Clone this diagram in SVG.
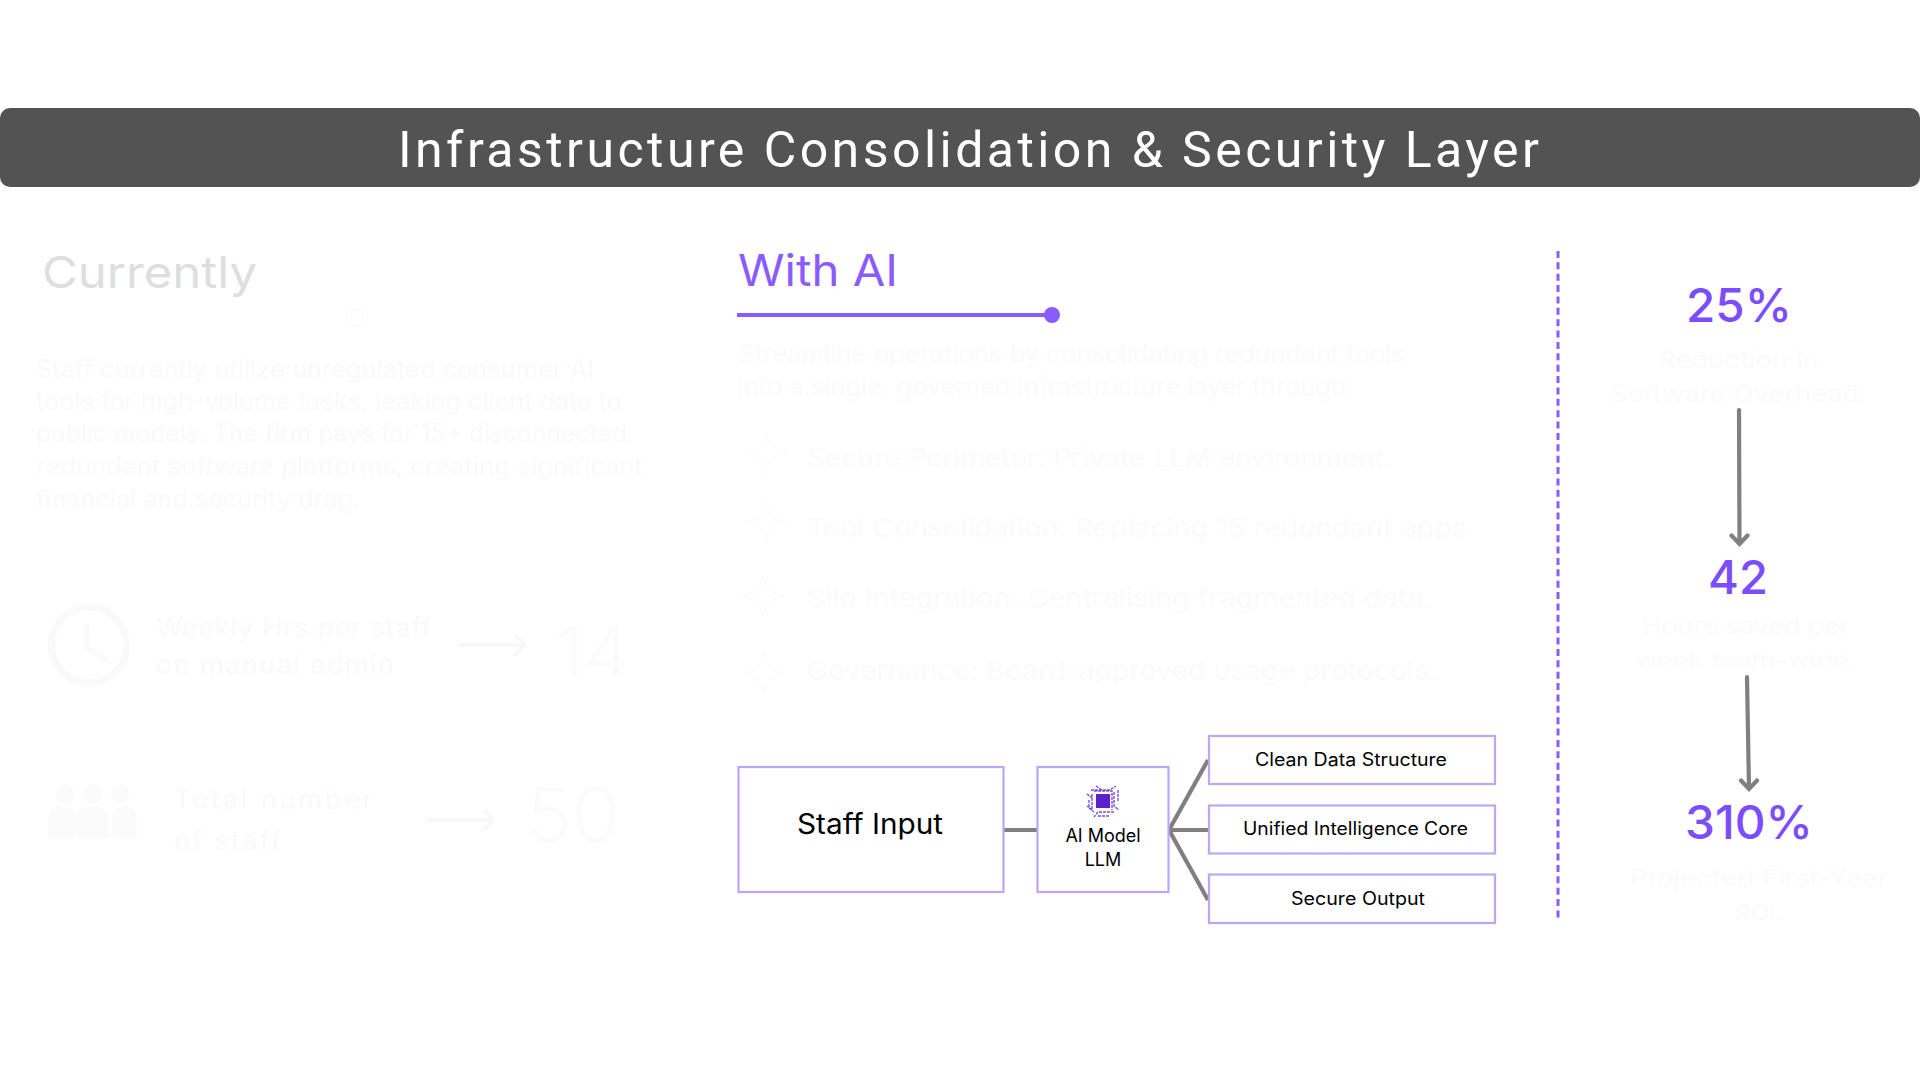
<svg xmlns="http://www.w3.org/2000/svg" width="1920" height="1080" viewBox="0 0 1920 1080">
<style>
text{font-family:"Inter","Noto Sans",sans-serif}
.box{fill:#fff;stroke:#bba6fb;stroke-width:2.2}
.conn{fill:none;stroke:#808080;stroke-width:4.2}
.fb{fill:#fafafb;font-size:25px}
.fm{fill:#fafafb;font-size:27px}
.fs{fill:#fbfbfb;font-size:26px}
.fw{fill:#fbfbfb;font-size:23px}
.fi{fill:none;stroke:#fafafa;stroke-width:7;stroke-linecap:round;stroke-linejoin:round}
.fa{fill:none;stroke:#f8f8f8;stroke-width:4;stroke-linecap:round;stroke-linejoin:round}
.star{fill:none;stroke:#fafafa;stroke-width:1}
.num{fill:#fbfbfb;font-size:70px;font-weight:300}
.bl{fill:#000;font-weight:400}
.pct{fill:#7c4dff;font-size:47px;font-weight:500}
.trace{fill:none;stroke:#7a4fe0;stroke-width:1.4}
</style>
<defs>
<path id="s" d="M0-21C2-8 8-2 21 0C8 2 2 8 0 21C-2 8-8 2-21 0C-8-2-2-8 0-21Z"/>
</defs>
<g id="header">
<rect x="0" y="108" width="1920" height="79" rx="10" fill="#535353"/>
<text x="398" y="167" font-size="50" fill="#fff" textLength="1141" lengthAdjust="spacing" style="font-family:'Roboto',sans-serif;font-weight:400">Infrastructure Consolidation &amp; Security Layer</text>
</g>
<g id="currently">
<text x="42" y="288" font-size="44" fill="#dedee1" textLength="215" lengthAdjust="spacingAndGlyphs" style="font-weight:400">Currently</text>
<circle cx="355" cy="317" r="8.500" fill="none" stroke="#fbfbfb" stroke-width="1.500"/>
<text class="fb" x="36" y="378" textLength="558" lengthAdjust="spacingAndGlyphs">Staff currently utilize unregulated consumer AI</text>
<text class="fb" x="36" y="410" textLength="586" lengthAdjust="spacingAndGlyphs">tools for high-volume tasks, leaking client data to</text>
<text class="fb" x="36" y="442" textLength="598" lengthAdjust="spacingAndGlyphs">public models. The firm pays for 15+ disconnected,</text>
<text class="fb" x="36" y="475" textLength="607" lengthAdjust="spacingAndGlyphs">redundant software platforms, creating significant</text>
<text class="fb" x="36" y="508" textLength="324" lengthAdjust="spacingAndGlyphs">financial and security drag.</text>
</g>
<g id="metric-hours">
<ellipse class="fi" cx="89" cy="645" rx="37.500" ry="38"/>
<path class="fi" d="M87.500 626V648L106 660" stroke-linecap="butt" style="stroke-width:5"/>
<text class="fm" x="156" y="637" textLength="275" lengthAdjust="spacing">Weekly Hrs per staff</text>
<text class="fm" x="156" y="674" textLength="238" lengthAdjust="spacing">on manual admin</text>
<path class="fa" d="M459 645H524M516 636L524.500 645L516 654"/>
<text class="num" x="555" y="677" textLength="75" lengthAdjust="spacingAndGlyphs">14</text>
</g>
<g id="metric-staff">
<g fill="#fbfbfb">
<circle cx="65" cy="794" r="9.500"/><circle cx="93" cy="794" r="9.500"/><circle cx="120.500" cy="794" r="9.500"/>
<path d="M48 838V823Q48 806 62 806Q72 806 76 815V838Z"/>
<path d="M77 838V820Q77 806 93 806Q109 806 109 820V838Z"/>
<path d="M113 838V815Q116 806 125 806Q137 806 137 823V838Z"/>
</g>
<text class="fm" x="174" y="809" textLength="199" lengthAdjust="spacing">Total number</text>
<text class="fm" x="174" y="850" textLength="107" lengthAdjust="spacing">of staff</text>
<path class="fa" d="M428 820H493M485 811L493.500 820L485 829"/>
<text class="num" x="526" y="842" style="font-size:75px" textLength="94" lengthAdjust="spacingAndGlyphs">50</text>
</g>
<g id="with-ai">
<text x="738" y="286" font-size="44" textLength="160" lengthAdjust="spacingAndGlyphs" style="fill:#8a5cff;font-weight:400">With AI</text>
<path d="M737 315H1050" stroke="#8a5cff" stroke-width="4"/>
<circle cx="1052" cy="315" r="8" fill="#8a5cff"/>
<text class="fs" x="738" y="363" textLength="667" lengthAdjust="spacingAndGlyphs">Streamline operations by consolidating redundant tools</text>
<text class="fs" x="738" y="396" textLength="615" lengthAdjust="spacingAndGlyphs">into a single, governed infrastructure layer through:</text>
</g>
<g id="item-1"><use href="#s" class="star" x="766" y="453"/><text class="fs" x="807" y="467" textLength="585" lengthAdjust="spacingAndGlyphs">Secure Perimeter: Private LLM environment.</text></g>
<g id="item-2"><use href="#s" class="star" x="766" y="522"/><text class="fs" x="807" y="537" textLength="660" lengthAdjust="spacingAndGlyphs">Tool Consolidation: Replacing 15 redundant apps</text></g>
<g id="item-3"><use href="#s" class="star" x="763" y="596"/><text class="fs" x="807" y="607" textLength="625" lengthAdjust="spacingAndGlyphs">Silo Integration: Centralising fragmented data.</text></g>
<g id="item-4"><use href="#s" class="star" x="764" y="673"/><text class="fs" x="807" y="680" textLength="630" lengthAdjust="spacingAndGlyphs">Governance: Board-approved usage protocols.</text></g>
<g id="connectors">
<path class="conn" d="M1003 830H1037"/>
<path class="conn" d="M1168 830H1208M1208 760L1169 830L1208 900"/>
<path class="conn" d="M1739 410L1739.500 544M1731.500 535.500L1739.500 544L1747.500 535.500" stroke-linecap="round"/>
<path class="conn" d="M1747 677L1749 789M1741 780.500L1749 789L1757 780.500" stroke-linecap="round"/>
</g>
<g id="node-staff-input">
<rect class="box" x="738.500" y="767" width="265" height="125"/>
<text class="bl" x="797" y="834" font-size="28" textLength="146" lengthAdjust="spacingAndGlyphs">Staff Input</text>
</g>
<g id="node-ai-model">
<rect class="box" x="1037.500" y="767" width="131" height="125"/>
<g id="chip">
<rect x="1096" y="794" width="14" height="14" fill="#5a22cc"/>
<path class="trace" d="M1091 790H1110L1116 786M1114 792V806L1119 810M1114 812H1098L1094 817M1092 794V810L1087 806M1096 786L1102 790M1087 794L1092 798M1118 790V802M1098 816H1110M1089 800V808L1094 812M1094 791H1112V810" stroke-dasharray="3 1"/>
</g>
<text class="bl" x="1103" y="842" font-size="18" text-anchor="middle">AI Model</text>
<text class="bl" x="1103" y="866" font-size="18" text-anchor="middle">LLM</text>
</g>
<g id="node-clean">
<rect class="box" x="1209" y="736" width="286" height="48"/>
<text class="bl" x="1255" y="766" font-size="18" textLength="192" lengthAdjust="spacingAndGlyphs">Clean Data Structure</text>
</g>
<g id="node-core">
<rect class="box" x="1209" y="805.500" width="286" height="48"/>
<text class="bl" x="1243" y="835" font-size="18" textLength="225" lengthAdjust="spacingAndGlyphs">Unified Intelligence Core</text>
</g>
<g id="node-output">
<rect class="box" x="1209" y="874.500" width="286" height="48.500"/>
<text class="bl" x="1291" y="905" font-size="18" textLength="134" lengthAdjust="spacingAndGlyphs">Secure Output</text>
</g>
<path id="divider" d="M1558 251V919" fill="none" stroke="#8a5cff" stroke-width="3" stroke-dasharray="7 4.370"/>
<g id="stat-25">
<text class="pct" x="1686" y="322" textLength="106" lengthAdjust="spacingAndGlyphs">25%</text>
<text class="fw" x="1658" y="368" textLength="161" lengthAdjust="spacingAndGlyphs">Reduction in</text>
<text class="fw" x="1610" y="402" textLength="257" lengthAdjust="spacingAndGlyphs">Software Overhead.</text>
</g>
<g id="stat-42">
<text class="pct" x="1708" y="594" textLength="60" lengthAdjust="spacingAndGlyphs">42</text>
<text class="fw" x="1642" y="634" textLength="208" lengthAdjust="spacingAndGlyphs">Hours saved per</text>
<text class="fw" x="1635" y="668" textLength="222" lengthAdjust="spacingAndGlyphs">week team-wide.</text>
</g>
<g id="stat-310">
<text class="pct" x="1685" y="839" textLength="128" lengthAdjust="spacingAndGlyphs">310%</text>
<text class="fw" x="1630" y="886" textLength="258" lengthAdjust="spacingAndGlyphs">Projected First-Year</text>
<text class="fw" x="1735" y="921" textLength="48" lengthAdjust="spacingAndGlyphs">ROI.</text>
</g>
</svg>
